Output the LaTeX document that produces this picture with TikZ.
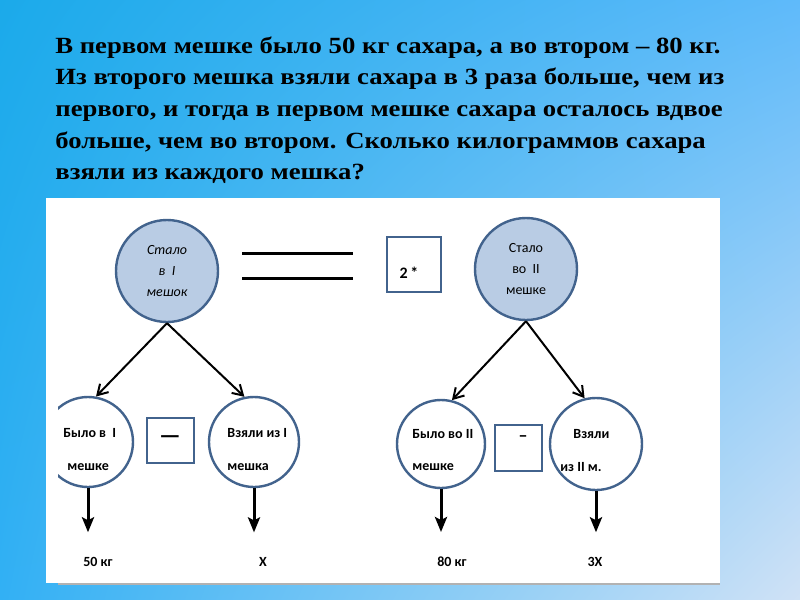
\documentclass[tikz,border=0pt]{standalone}
\usepackage{fontspec}
\setmainfont{Liberation Serif}
\newfontfamily\taskfont[FakeStretch=1.15]{Liberation Serif}
\newfontfamily\calibri{Carlito}
\usetikzlibrary{arrows.meta,positioning,shadings}
\definecolor{bgTL}  {RGB}{27,170,234}
\definecolor{bgTR}  {RGB}{95,186,250}
\definecolor{bgBL}  {RGB}{50,176,244}
\definecolor{bgBR}  {RGB}{208,226,246}
\definecolor{ringLine}{RGB}{66,99,141}
\definecolor{ringFill}{RGB}{185,204,228}

\begin{document}
\begin{tikzpicture}[x=0.5pt,y=-0.5pt,
    font=\calibri\bfseries\fontsize{7}{8}\selectfont,
    ring/.style={circle,draw=ringLine,line width=1.2pt,minimum size=45pt,inner sep=0pt},
    topring/.style={ring,fill=ringFill,minimum size=51pt,align=center},
    opbox/.style={draw=ringLine,line width=1pt,minimum width=23.5pt,minimum height=22.5pt,inner sep=0pt},
    txt/.style={anchor=west,inner sep=0pt},
    split/.style={-{Straight Barb[length=5pt,width=6pt]},line width=1pt},
    down/.style={-{Stealth[length=7.5pt,width=6pt,inset=1.5pt]},line width=1.5pt}]
    \shade[upper left=bgTL,upper right=bgTR,lower left=bgBL,lower right=bgBR]
      (0,0) rectangle (800,600);

    \node[anchor=north west,align=left,inner sep=0pt,
          font=\taskfont\bfseries\fontsize{11.6}{15.85}\selectfont] (task) at (55,36)
      {В первом мешке было 50 кг сахара, а во втором – 80 кг.\\
       Из второго мешка взяли сахара в 3 раза больше, чем из\\
       первого, и тогда в первом мешке сахара осталось вдвое\\
       больше, чем во втором. Сколько килограммов сахара\\
       взяли из каждого мешка?};

    \fill[white] (46,198) rectangle (720,583);
    \draw[gray!60,line width=1pt] (58,584) -- (720,584);

    \node[topring,font=\calibri\itshape\fontsize{7}{10.5}\selectfont] (left) at (167,271)
      {Стало\\в\ \ I\\мешок};
    \node[topring,font=\calibri\fontsize{7}{10.5}\selectfont] (right) at (526,269)
      {Стало\\во\ \ II\\мешке};

    \draw[line width=1.5pt] (242,253) -- (353,253) (242,278) -- (353,278);
    \node[opbox,minimum width=27pt,minimum height=27.5pt] (twice) at (414,264) {};
    \node[font=\calibri\bfseries\fontsize{8}{9}\selectfont] (twicelbl) at (409,273) {2\,*};

    \begin{scope}
      \clip (58,190) rectangle (720,590);
      \node[ring] (was1) at (88,442) {};
    \end{scope}
    \node[ring] (took1) at (254,442) {};
    \node[ring,minimum size=44pt] (was2) at (441,444) {};
    \node[ring,minimum size=46pt] (took2) at (596,444) {};

    \node[opbox,font=\calibri\bfseries\fontsize{12}{12}\selectfont] (minus1) at (170,440) {—};
    \node[opbox,minimum height=23pt] (minus2) at (518,448) {};
    \node[font=\calibri\bfseries\fontsize{9}{10}\selectfont] (minus2lbl) at (523,439) {–};

    \node[txt] (was1a)  at (63,433)  {Было в\ \ I};
    \node[txt] (was1b)  at (67,467)  {мешке};
    \node[txt] (took1a) at (227,433) {Взяли из I};
    \node[txt] (took1b) at (227,467) {мешка};
    \node[txt] (was2a)  at (412,434) {Было во II};
    \node[txt] (was2b)  at (412,467) {мешке};
    \node[txt] (took2a) at (573,434) {Взяли};
    \node[txt] (took2b) at (560,467) {из II м.};

    \node (kg50) at (98,562)  {50 кг};
    \node (x1)   at (263,562) {X};
    \node (kg80) at (452,562) {80 кг};
    \node (x3)   at (595,562) {3X};

    \draw[split] (left.south) -- (was1.80);
    \draw[split] (left.south) -- (took1.102);
    \draw[split] (right.south) -- (was2.76);
    \draw[split] (right.south) -- (took2.104);

    \draw[down,shorten >=9pt] (was1.south) -- (was1.south |- kg50.north);
    \draw[down,shorten >=9pt] (took1.south) -- (took1.south |- x1.north);
    \draw[down,shorten >=9pt] (was2.south) -- (was2.south |- kg80.north);
    \draw[down,shorten >=9pt] (took2.south) -- (took2.south |- x3.north);
\end{tikzpicture}
\end{document}
